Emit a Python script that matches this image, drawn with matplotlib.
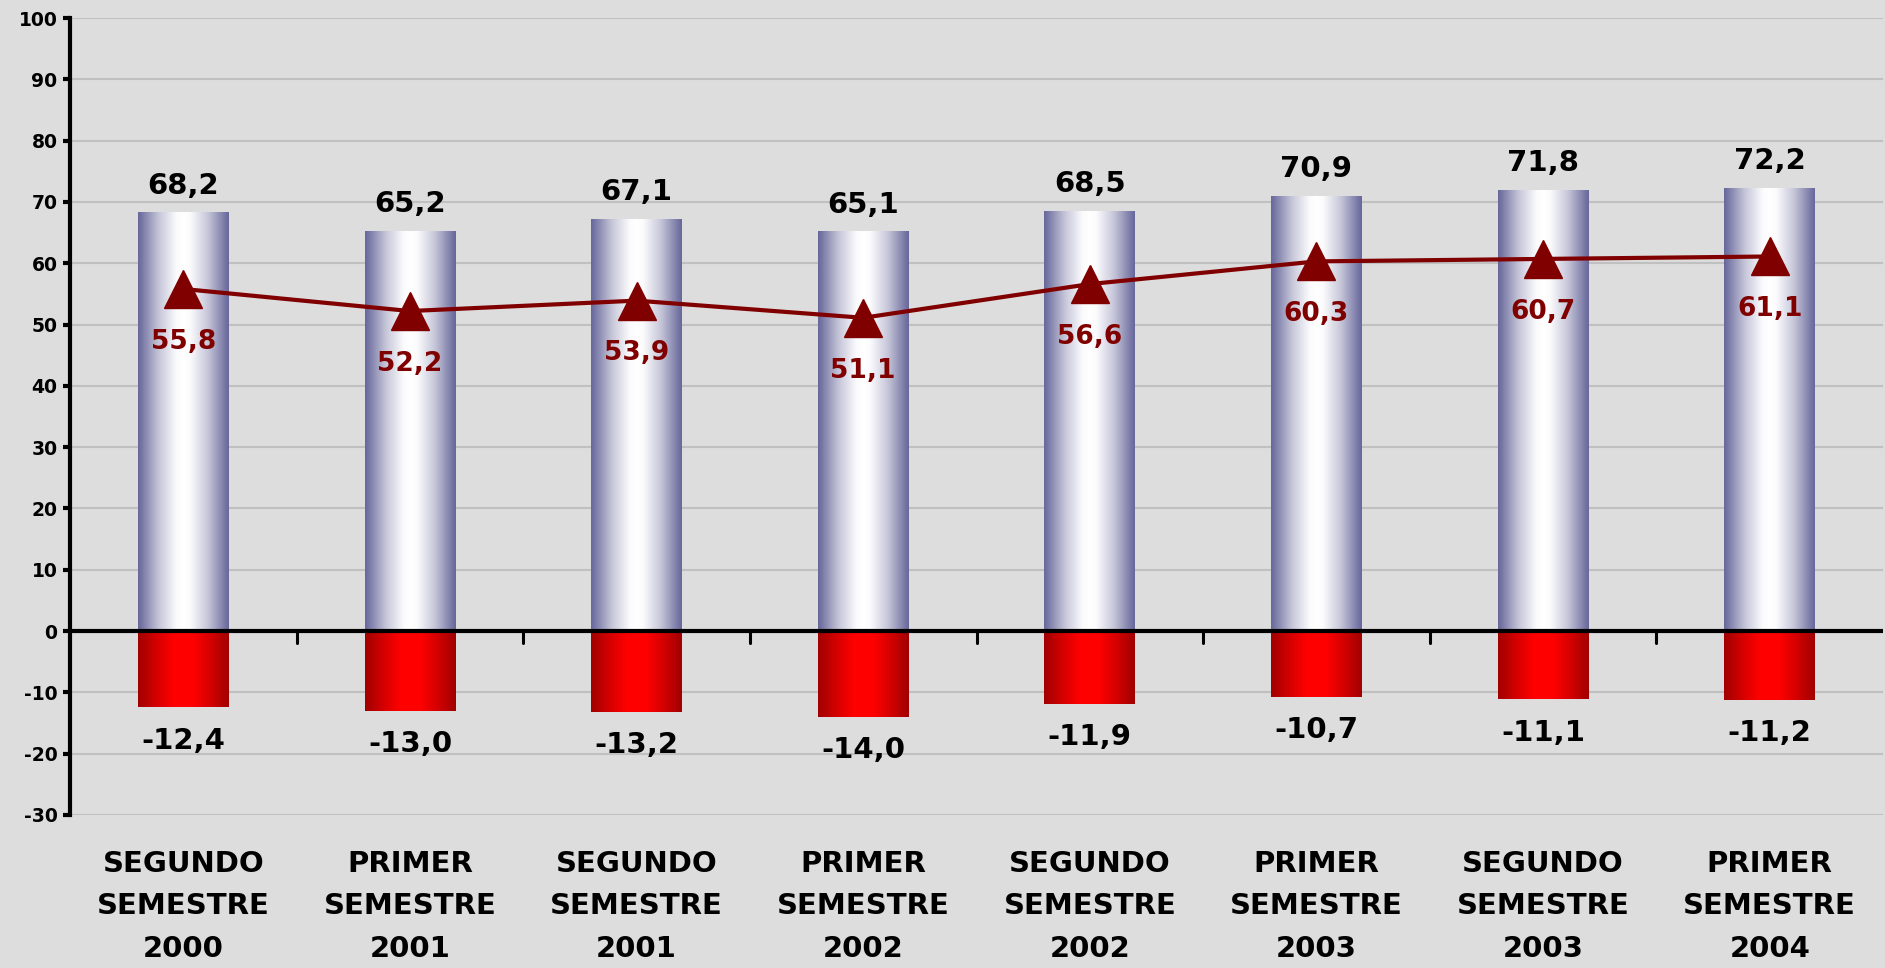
import matplotlib
matplotlib.use("Agg")

import numpy as np
import matplotlib.pyplot as plt
from matplotlib.colors import LinearSegmentedColormap

# ---------------------------------------------------------------------------
# Data
# ---------------------------------------------------------------------------
categories = ["SEGUNDO\nSEMESTRE\n2000", "PRIMER\nSEMESTRE\n2001",
              "SEGUNDO\nSEMESTRE\n2001", "PRIMER\nSEMESTRE\n2002",
              "SEGUNDO\nSEMESTRE\n2002", "PRIMER\nSEMESTRE\n2003",
              "SEGUNDO\nSEMESTRE\n2003", "PRIMER\nSEMESTRE\n2004"]
positive = [68.2, 65.2, 67.1, 65.1, 68.5, 70.9, 71.8, 72.2]
negative = [-12.4, -13.0, -13.2, -14.0, -11.9, -10.7, -11.1, -11.2]
balance = [55.8, 52.2, 53.9, 51.1, 56.6, 60.3, 60.7, 61.1]
yticks = [-30, -20, -10, 0, 10, 20, 30, 40, 50, 60, 70, 80, 90, 100]


def fmt(v):
    return f"{v:.1f}".replace(".", ",")


BG = "#dddddd"
DARK_RED = "#800000"
x = np.arange(len(categories))

fig = plt.figure(figsize=(18.85, 9.68), dpi=100, facecolor=BG)
ax = fig.add_axes([70 / 1885, 1 - 815 / 968, 1813 / 1885, 797 / 968])
ax.set_facecolor(BG)

# ── Bars (drawn invisible, then filled with a horizontal gradient) ──────────
bars_pos = ax.bar(x, positive, width=0.40, color="none", zorder=2)
bars_neg = ax.bar(x, negative, width=0.40, color="none", zorder=2)

t = np.linspace(0, 1, 256)
s = np.abs(2 * t - 1)
blue_cmap = LinearSegmentedColormap.from_list(
    "bl", [(0, "#ffffff"), (0.15, "#fbfbfd"), (0.55, "#c4c4d8"), (1, "#66669a")])
red_cmap = LinearSegmentedColormap.from_list(
    "rd", [(0, "#ff0000"), (0.2, "#ff0000"), (0.6, "#d40000"), (1, "#a00000")])
grad = s[np.newaxis, :]

for patch in bars_pos:
    x0, w, h = patch.get_x(), patch.get_width(), patch.get_height()
    ax.imshow(grad, cmap=blue_cmap, aspect="auto", interpolation="bicubic",
              extent=[x0, x0 + w, 0, h], zorder=2)
for patch in bars_neg:
    x0, w, h = patch.get_x(), patch.get_width(), patch.get_height()
    ax.imshow(grad, cmap=red_cmap, aspect="auto", interpolation="bicubic",
              extent=[x0, x0 + w, h, 0], zorder=2)

# ── Line with triangles ───────────────────────────────────────────────────────
ax.plot(x, balance, color=DARK_RED, lw=3, marker="^", markersize=27,
        zorder=5)

# ── Value labels ──────────────────────────────────────────────────────────────
for xi, v in zip(x, positive):
    ax.annotate(fmt(v), (xi, v), xytext=(0, 14), textcoords="offset points",
                ha="center", va="baseline", fontsize=21, fontweight="bold",
                color="black", zorder=6)
for xi, v in zip(x, negative):
    ax.annotate(fmt(v), (xi, v), xytext=(0, -14), textcoords="offset points",
                ha="center", va="top", fontsize=21, fontweight="bold",
                color="black", zorder=6)
for xi, v in zip(x, balance):
    ax.annotate(fmt(v), (xi, v), xytext=(0, -38), textcoords="offset points",
                ha="center", va="center", fontsize=19, fontweight="bold",
                color=DARK_RED, zorder=6)

# ── Axes styling ──────────────────────────────────────────────────────────────
ax.axhline(0, color="black", lw=3, zorder=4)
for b in x[:-1] + 0.5:
    ax.plot([b, b], [0, -2], color="black", lw=2.2, solid_capstyle="round",
            zorder=4)

ax.set_xlim(-0.5, len(categories) - 0.5)
ax.set_ylim(-30, 100)
ax.set_yticks(yticks)
ax.set_yticklabels([str(v) for v in yticks], fontsize=13.5, fontweight="bold")
ax.tick_params(axis="y", direction="out", length=5, width=3, pad=4)

ax.set_xticks(x)
ax.set_xticklabels(categories, fontsize=21, fontweight="bold")
for lbl in ax.get_xticklabels():
    lbl.set_linespacing(1.67)
ax.tick_params(axis="x", length=0, pad=25)

ax.yaxis.grid(True, color="#c0c0c0", lw=1.5)
ax.set_axisbelow(True)
for side in ["top", "right", "bottom"]:
    ax.spines[side].set_visible(False)
ax.spines["left"].set_linewidth(3)

fig.savefig("out.png", dpi=100, facecolor=BG)
